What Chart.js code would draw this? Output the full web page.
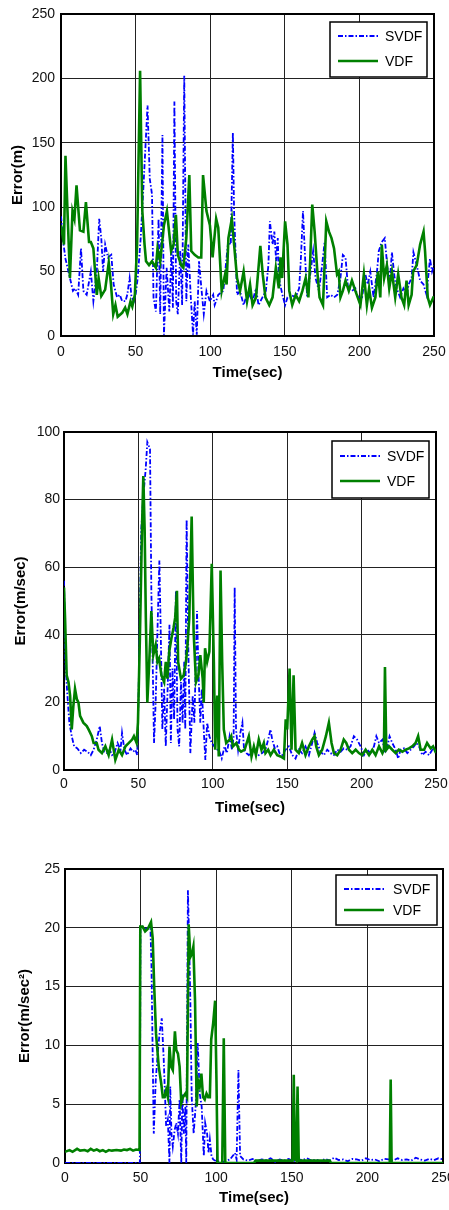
<!DOCTYPE html>
<html lang="en">
<head>
    <meta charset="UTF-8">
    <title>Error vs time</title>
    <script src="https://cdn.jsdelivr.net/npm/chart.js"></script>
    <style>
        body {
            margin: 0;
            background: #fff;
        }

        .page {
            position: relative;
            width: 449px;
            height: 1210px;
        }

        .page canvas {
            position: absolute;
            left: 0;
        }
    </style>
</head>
<body>
<div class="page">
    <canvas id="posChart" width="449" height="400" style="top:0"></canvas>
    <canvas id="velChart" width="449" height="420" style="top:400px"></canvas>
    <canvas id="accChart" width="449" height="390" style="top:820px"></canvas>
</div>

<script>
    // series labels
    const seriesNames = ['SVDF', 'VDF'];
    const xTicks = [0, 50, 100, 150, 200, 250];

    // position error (m)
    const posT_SVDF = [0,1.5,3,6,8,9.5,11.5,13.4,15,17.2,
        20,21.7,24,25.6,27,28.2,29.6,31.5,33.7,35.3,
        37.6,39.4,41,43.2,44.4,46,47.3,48.9,50,51.4,
        53.4,55,58,59.5,61,62,63.6,65.4,66.5,68,
        69,70.8,72.6,74,75,76,77.2,78.3,79.9,81.2,
        82.6,84,85.3,86.9,88.5,89.6,91,92.5,94.1,95.7,
        97.5,99.8,102,103,105.4,108.8,112,113.8,115.2,116,
        118,120,122.4,124,126.2,128.4,130.7,132.4,135,137.3,
        139,140,141.8,143,144.2,145.3,146,148.4,150.2,151.8,
        154,157.3,159.6,160.7,162.2,163.5,165,167.3,169,170.6,
        172.9,175,176.7,178.4,180.7,183,185.2,187.3,188.9,190.7,
        192.4,195,197.3,199,201.8,204,205.6,207.3,209.5,211.8,
        213,215,217,218.6,220.2,221.8,223.6,225,227.3,229.5,
        231.8,233,235,236.2,238.4,240.7,243,245,247.3,248.7,
        250];
    const posV_SVDF = [93,73,60,45,35,37,32,68,35,32,
        50,27,50,91,76,50,71,61,63,40,
        30,32,27,27,32,45,30,27,32,45,
        76,110,179,122,110,30,19,91,17,156,
        1,53,19,66,22,182,27,17,66,24,
        202,27,71,32,1,27,1,58,37,17,
        35,27,32,24,32,35,73,71,158,97,
        32,35,24,30,32,27,37,24,30,35,
        55,89,71,81,58,76,45,32,24,30,
        32,30,37,58,97,63,30,50,66,45,
        35,55,73,30,32,30,32,45,63,61,
        37,35,37,30,30,48,40,50,30,50,
        66,73,76,55,40,65,45,37,30,37,
        32,40,45,65,55,43,40,32,60,50,
        55];
    const posT_VDF = [0,2,3,6,7.7,9,10.4,12.7,15,16.7,
        18.8,20,21.7,24,25.2,27,29.6,32,33.5,35,
        36.5,38,41,43,44.5,46.6,47.8,49.5,51,53,
        54.5,56,57,59,61,63.6,64.7,66.5,69,71,
        73.8,75.5,77,78.3,80.5,82,84,86,87.3,89.6,
        92,94,95.2,97.5,99.8,101.6,104,105.4,107.7,110,
        111,112.2,114.5,118,120,122.4,124.7,126.7,128.4,130.7,
        133.6,135.2,137,139.6,141.8,144,146,147.1,148.2,150.2,
        151.8,153,155,157.3,159.6,161.8,164,165.8,167,168.4,
        170,171.8,173.3,175.6,177.8,179.6,181.3,183,185,186.1,
        187.3,188.9,190.7,192.9,195,197.3,200.7,203,205,206.5,
        208.4,210.7,212.4,214,215,216.6,218.4,220,221.8,224,
        226,228.2,230,231.6,233,235,236,238.4,240.7,243,
        244,245.8,247.3,249.6,250];
    const posV_VDF = [86,71,140,45,97,91,117,82,81,104,
        73,73,68,32,45,31,36,57,40,17,
        24,15,18,22,17,27,23,32,71,206,
        97,71,58,55,58,53,68,58,86,97,
        66,71,94,63,55,53,76,125,66,63,
        61,61,125,97,86,61,91,84,35,48,
        40,76,91,45,35,50,27,40,24,30,
        70,48,30,24,30,53,37,61,45,89,
        71,35,24,32,27,35,45,30,58,102,
        81,50,30,24,89,81,76,68,48,50,
        30,35,43,35,43,35,24,48,24,37,
        22,30,50,30,71,45,55,37,50,30,
        48,30,24,43,24,32,50,55,71,81,
        66,30,24,30,30];

    // velocity error (m/sec)
    const velT_SVDF = [0,0.9,2.3,3.6,5.2,6.8,9,11.3,13.5,15.8,
        18,19.9,22,24,25.5,27,28.9,30.7,32.3,33.9,
        36,38,39,40.6,42.4,44.7,46.5,48,49.2,50.1,
        51,51.9,53.3,54.9,56,56.9,57.8,58.7,59.6,60.5,
        61.6,62.8,64.1,65,66.1,67.3,68.4,69.5,70.9,71.8,
        72.9,74,75.2,76.3,77.4,78.6,79.7,80.8,81.5,82.4,
        83.5,84.9,86.5,87.6,89.4,90.3,91.6,92.6,93.9,95,
        96.2,97.7,99.3,101,103,104.5,106,107.9,109.5,111.3,
        112.9,114,114.7,115.6,117,118.5,119.9,121,122.6,124.2,
        126.5,128.7,130.9,133.2,135.4,137.2,138.8,139.9,141.7,143.3,
        144.8,146.6,148.9,151.1,153.4,155.6,157.8,160,162.3,164.6,
        166.8,168.4,170.2,172.4,174.7,176.9,179.1,181.4,183.6,185.9,
        188,190.4,192.6,194.8,197,199.3,201.6,203.8,206,208.3,
        209.9,211.7,214,215.7,217.3,218.8,220.6,222.9,224.6,226.2,
        228.5,230.7,233,235.2,236.8,238.6,240.8,243,245.3,247.5,
        250];
    const velV_SVDF = [56,32,22,14,10,7,6.4,5,6,5.4,
        4.4,6,9,13,8,5.4,5,6,4.4,5,
        8,6,11,6,4.4,6.4,5.4,6,4.4,22,
        47,71,81,89,97,96,95,53,32,8,
        20,41,62,41,12,24,7,22,43,8,
        30,15,53,12,7,26,14,32,12,74,
        37,5,22,14,47,30,14,24,12,3,
        14,10,8,7,6,5.4,3.4,7,5,10,
        6,10,54,12,6,11,14,6,5,4.4,
        6,5.4,4.4,5,6,9,12,9,6.4,7,
        5,4.4,6,7,4.4,3.4,6,5,7,4.4,
        8,11,8,5.4,4.4,6,5,4.4,6,5.4,
        6.4,6,7,10,9,7,4.4,6,5,7,
        10,8,9,5,7,10,8,6,3.4,6,
        6.4,5,6,7,8,7,4.4,5.4,4.4,6,
        5.4];
    const velT_VDF = [0,0.7,1.8,3,4.1,5.2,6.3,7.4,8.6,9.7,
        10.8,13,15.3,16.5,18.7,19.9,22,23.2,25.5,27.8,
        30,32.3,34.5,36.8,39,41.3,43.6,45.8,47,48.8,
        49.7,51,52.4,53.3,54.2,55,56,57.3,58.7,60,
        61.6,62.8,63.9,65.5,67.3,68.4,69.5,70.7,72.2,73.6,
        74.7,75.9,76.7,78.6,80.4,82,83,84.2,85.8,87.1,
        88.7,90.3,91.6,93.2,93.9,94.8,96.2,97.7,99.3,100.7,
        101.6,103,104,105.2,106.3,107.4,109,111.3,112.4,113.5,
        115.8,117.6,119,121.4,124.2,126,127.6,129,130.9,132.7,
        134.3,135.4,137.2,138.8,141,143.3,145.5,147.8,149,150,
        151.6,152.9,154.3,155.6,157.8,160,162.3,164.6,166.8,168.4,
        169.5,171.3,173.5,176,178,179.8,181.4,183.6,185.9,188,
        189.7,191.5,193.7,196,198.2,200.4,202.7,205,207.2,209.4,
        211.7,214,215,215.7,216.6,218.4,220.6,222.9,225,227.4,
        229.6,231.8,234,236.3,238,239.7,242,244,246.4,248,
        250];
    const velV_VDF = [54,45,28,26,22,12,19,24,21,20,
        16,14,13,12,10,8,8,6,5,7,
        4.4,9,3,6,4.4,7,8,9,10,8,
        14,39,71,87,71,45,20,32,47,34,
        37,32,33,28,26,32,27,35,39,42,
        45,53,32,27,28,32,37,45,75,41,
        26,28,34,27,20,36,32,35,61,32,
        6,22,4,59,32,12,8,9,10,7,
        8,6,5.4,6,10,4,7,4.4,9,6,
        8,5,6,4.4,6,4.4,4,3.4,15,12,
        30,6,28,6,5,8,4.4,7,9,10,
        7,4.4,6,10,14,8,5,4.4,6,9,
        8,6,5,6,5,4.4,6,4.4,6,4.4,
        7,5,6,30.5,6,7,6,5,6,5.4,
        6,6.4,7,8,10,6,6,8,6.4,7,
        5];

    // acceleration error (m/sec^2)
    const accT_SVDF = [0,49.5,49.9,51.3,53,55,56.5,57.2,58.7,60,
        61.3,62.5,64,65.3,66.9,68,69.1,69.6,70.4,71.3,
        72.5,73.6,74.7,75.8,76.9,77.6,78.6,79.6,80.2,81.3,
        82,82.9,83.8,85.1,86.4,87.8,89.1,90.4,91.8,92.7,
        94,94.9,95.8,96.9,98,100.2,104.7,109.1,112.4,113.5,
        114.7,115.8,118,121,124,127,130,133,136,139,
        142,145,148,151,154,157,160,163,166,169,
        172,175,178,181,184,187,190,193,196,199,
        202,205,208,211,214,217,220,223,226,229,
        232,235,238,241,244,247,250];
    const accV_SVDF = [0,0,20,20.1,19.9,20,20,16.7,2.5,7,
        9.3,11,12.3,8.8,3.1,3.7,0,6.5,2.5,1.4,
        2.8,3.4,2.5,5.4,0,5.9,2.5,4.8,0,23.2,
        19.5,13.8,5.6,2.5,4.8,10.2,5.9,4.8,0.6,3.4,
        2.5,0.85,2,0.6,0.3,0.14,0.1,0.3,0.85,0.3,
        7.9,0.6,0.3,0.2,0.35,0.15,0.3,0.25,0.4,0.1,
        0.3,0.2,0.35,0.15,0.3,0.25,0.4,0.2,0.3,0.15,
        0.35,0.2,0.45,0.25,0.3,0.15,0.35,0.3,0.2,0.4,
        0.25,0.3,0.15,0.35,0.3,0.2,0.4,0.25,0.3,0.2,
        0.45,0.3,0.2,0.35,0.25,0.4,0.3];
    const accT_VDF = [0,3,5,8,10,13,15,17,19,21,
        23,25,27,29,31,34,37,39,41,43,
        45,47,49.3,49.8,51.3,53,54.7,55.8,56.9,58,
        59,60.2,62,63.6,64.7,65.8,66.9,68,69.1,70.2,
        71.3,72.7,73.6,74.7,75.8,76.9,78,79.6,80.7,81.8,
        82.9,84,84.9,86,87.1,88,89.1,90.2,91.3,92.4,
        93.6,94.7,95.8,96.7,98,99.3,100.2,100.9,104,105,
        106,125,126,150.5,151.3,152,153,153.8,154.6,175,
        176,214.8,215.4,216,250];
    const accV_VDF = [0.95,1.1,0.95,1.2,1.05,1.1,1,1.2,1.05,1.15,
        1,1.1,0.95,1.1,1.05,1.1,1.05,1.15,1.1,1.2,
        1.05,1.15,1.1,20.1,20.1,19.7,19.9,20.2,20.5,19.1,
        15,11,8.2,6.8,5.6,5.6,6.2,5.6,9.9,8.2,
        7.9,11.2,9.6,9.3,8.2,5.1,5.6,5.9,5.6,20.3,
        17.5,17.8,18.4,13.8,4.8,7,6.5,7.6,5.6,5.4,
        5.9,5.6,5.6,10.5,11.9,13.8,6.8,0,0,10.6,
        0,0,0.2,0.2,7.5,0.3,0.2,6.5,0.2,0.2,
        0,0,7.1,0,0];

    const FONT = "'Liberation Sans', Arial, sans-serif";

    function pts(ts, vs) {
        return ts.map((t, i) => ({x: t, y: vs[i]}));
    }

    // frame around plot + legend box drawn inside the plot
    const boxLegend = {
        id: 'boxLegend',
        beforeDatasetsDraw(chart) {
            const a = chart.chartArea, ctx = chart.ctx;
            ctx.save();
            ctx.strokeStyle = '#000';
            ctx.lineWidth = 2;
            ctx.strokeRect(a.left, a.top, a.right - a.left, a.bottom - a.top);
            ctx.restore();
        },
        afterDatasetsDraw(chart, args, o) {
            const a = chart.chartArea, ctx = chart.ctx;
            const x = a.right - o.dx - o.w, y = a.top + o.dy;
            ctx.save();
            ctx.fillStyle = '#fff';
            ctx.fillRect(x, y, o.w, o.h);
            ctx.strokeStyle = '#000';
            ctx.lineWidth = 1.5;
            ctx.strokeRect(x, y, o.w, o.h);
            ctx.font = '14px ' + FONT;
            ctx.textBaseline = 'middle';
            chart.data.datasets.forEach((ds, i) => {
                const ly = y + o.rows[i];
                ctx.strokeStyle = ds.borderColor;
                ctx.lineWidth = ds.borderWidth;
                ctx.setLineDash(ds.borderDash || []);
                ctx.beginPath();
                ctx.moveTo(x + 8, ly);
                ctx.lineTo(x + 48, ly);
                ctx.stroke();
                ctx.setLineDash([]);
                ctx.fillStyle = '#000';
                ctx.fillText(ds.label, x + o.tx, ly + 1);
            });
            ctx.restore();
        }
    };

    function makeChart(id, c) {
        new Chart(document.getElementById(id), {
            type: 'line',
            data: {
                datasets: [{
                    label: seriesNames[0],
                    data: pts(c.tS, c.vS),
                    borderColor: '#0000ff',
                    borderWidth: 1.8,
                    borderDash: [5, 2, 1.5, 2],
                    pointRadius: 0,
                    tension: 0,
                    order: 1
                }, {
                    label: seriesNames[1],
                    data: pts(c.tV, c.vV),
                    borderColor: '#008000',
                    borderWidth: 2.6,
                    pointRadius: 0,
                    tension: 0,
                    order: 0
                }]
            },
            options: {
                responsive: false,
                animation: false,
                devicePixelRatio: 1,
                layout: {
                    autoPadding: false,
                    padding: {top: c.padTop, right: c.padRight, left: 0, bottom: 0}
                },
                plugins: {
                    legend: {display: false},
                    tooltip: {enabled: false},
                    boxLegend: c.legend
                },
                scales: {
                    x: {
                        type: 'linear',
                        min: 0,
                        max: 250,
                        afterBuildTicks: s => { s.ticks = xTicks.map(v => ({value: v})); },
                        afterFit: s => {
                            s.height = c.xH;
                            s.paddingLeft = 0;
                            s.paddingRight = 0;
                        },
                        grid: {color: '#222', lineWidth: 1, drawTicks: false},
                        border: {display: false},
                        ticks: {padding: c.xTickPad, color: '#111', font: {family: FONT, size: 14}, maxRotation: 0},
                        title: {
                            display: true,
                            text: 'Time(sec)',
                            color: '#000',
                            font: {family: FONT, size: 15, weight: 'bold'},
                            padding: {top: 0, bottom: c.xTitlePad}
                        }
                    },
                    y: {
                        min: 0,
                        max: c.yMax,
                        afterBuildTicks: s => { s.ticks = c.yTicks.map(v => ({value: v})); },
                        afterFit: s => {
                            s.width = c.yW;
                            s.paddingTop = 0;
                            s.paddingBottom = 0;
                        },
                        grid: {color: '#222', lineWidth: 1, drawTicks: false},
                        border: {display: false},
                        ticks: {padding: c.yTickPad, color: '#111', font: {family: FONT, size: 14}},
                        title: {
                            display: true,
                            text: c.yTitle,
                            color: '#000',
                            font: {family: FONT, size: 15, weight: 'bold'},
                            padding: {top: c.yTitlePad, bottom: 0}
                        }
                    }
                }
            },
            plugins: [boxLegend]
        });
    }

    makeChart('posChart', {
        tS: posT_SVDF, vS: posV_SVDF, tV: posT_VDF, vV: posV_VDF,
        yMax: 250, yTicks: [0, 50, 100, 150, 200, 250], yTitle: 'Error(m)',
        padTop: 14, padRight: 15, yW: 61, xH: 64,
        xTickPad: 8, yTickPad: 6, xTitlePad: 18, yTitlePad: 9,
        legend: {w: 97, h: 55, dx: 7, dy: 8, rows: [14, 39], tx: 55}
    });

    makeChart('velChart', {
        tS: velT_SVDF, vS: velV_SVDF, tV: velT_VDF, vV: velV_VDF,
        yMax: 100, yTicks: [0, 20, 40, 60, 80, 100], yTitle: 'Error(m/sec)',
        padTop: 32, padRight: 13, yW: 64, xH: 50,
        xTickPad: 6, yTickPad: 4, xTitlePad: 3, yTitlePad: 12,
        legend: {w: 97, h: 57, dx: 7, dy: 9, rows: [15, 40], tx: 55}
    });

    makeChart('accChart', {
        tS: accT_SVDF, vS: accV_SVDF, tV: accT_VDF, vV: accV_VDF,
        yMax: 25, yTicks: [0, 5, 10, 15, 20, 25], yTitle: 'Error(m/sec²)',
        padTop: 49, padRight: 6, yW: 65, xH: 47,
        xTickPad: 7, yTickPad: 5, xTitlePad: 3, yTitlePad: 16,
        legend: {w: 101, h: 50, dx: 6, dy: 6, rows: [14, 35], tx: 57}
    });
</script>
</body>
</html>
